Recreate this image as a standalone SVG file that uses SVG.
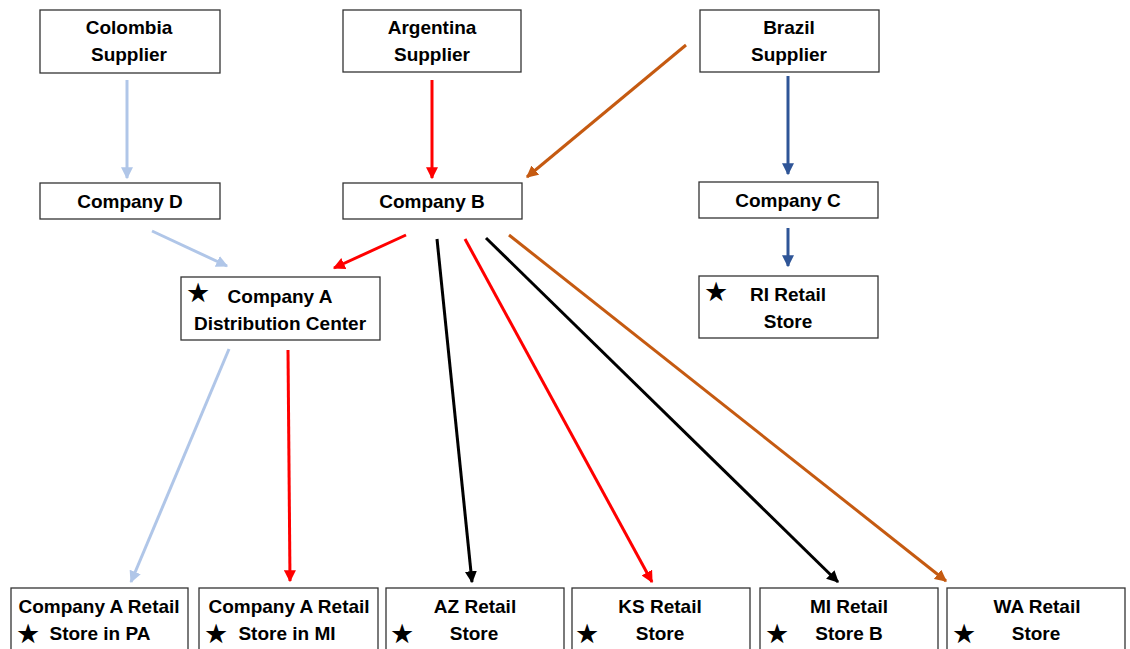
<svg xmlns="http://www.w3.org/2000/svg" width="1130" height="649" viewBox="0 0 1130 649">
<style>
.box{fill:#fff;stroke:#333;stroke-width:1.3}
.t{font-family:"Liberation Sans",Arial,sans-serif;font-weight:bold;font-size:19px;fill:#000;text-anchor:middle}
.star{font-family:"DejaVu Sans",sans-serif;font-size:27px;fill:#000;text-anchor:middle}
.c{fill:none;stroke-width:3}
.lb{stroke:#B0C6E8}.rd{stroke:#FF0000}.or{stroke:#C55A11}.bl{stroke:#2F5597}.bk{stroke:#000}
</style>
<defs>
<marker id="m-lb" viewBox="0 0 10 10" refX="9" refY="5" markerWidth="12" markerHeight="12" markerUnits="userSpaceOnUse" orient="auto"><path d="M0,0L10,5L0,10z" fill="#B0C6E8"/></marker>
<marker id="m-rd" viewBox="0 0 10 10" refX="9" refY="5" markerWidth="12" markerHeight="12" markerUnits="userSpaceOnUse" orient="auto"><path d="M0,0L10,5L0,10z" fill="#FF0000"/></marker>
<marker id="m-or" viewBox="0 0 10 10" refX="9" refY="5" markerWidth="12" markerHeight="12" markerUnits="userSpaceOnUse" orient="auto"><path d="M0,0L10,5L0,10z" fill="#C55A11"/></marker>
<marker id="m-bl" viewBox="0 0 10 10" refX="9" refY="5" markerWidth="12" markerHeight="12" markerUnits="userSpaceOnUse" orient="auto"><path d="M0,0L10,5L0,10z" fill="#2F5597"/></marker>
<marker id="m-bk" viewBox="0 0 10 10" refX="9" refY="5" markerWidth="12" markerHeight="12" markerUnits="userSpaceOnUse" orient="auto"><path d="M0,0L10,5L0,10z" fill="#000"/></marker>
</defs>
<rect width="1130" height="649" fill="#fff"/>
<g id="connectors">
<line class="c lb" x1="127" y1="80" x2="127" y2="178" marker-end="url(#m-lb)"/>
<line class="c rd" x1="432" y1="80" x2="432" y2="178" marker-end="url(#m-rd)"/>
<line class="c or" x1="686" y1="45" x2="527" y2="177" marker-end="url(#m-or)"/>
<line class="c bl" x1="788" y1="76" x2="788" y2="174" marker-end="url(#m-bl)"/>
<line class="c lb" x1="152" y1="231" x2="227" y2="266" marker-end="url(#m-lb)"/>
<line class="c rd" x1="406" y1="235" x2="334" y2="268" marker-end="url(#m-rd)"/>
<line class="c bl" x1="788" y1="228" x2="788" y2="266" marker-end="url(#m-bl)"/>
<line class="c lb" x1="229" y1="349" x2="131" y2="582" marker-end="url(#m-lb)"/>
<line class="c rd" x1="288" y1="350" x2="290" y2="581" marker-end="url(#m-rd)"/>
<line class="c bk" x1="437" y1="239" x2="472" y2="582" marker-end="url(#m-bk)"/>
<line class="c rd" x1="465" y1="239" x2="652" y2="582" marker-end="url(#m-rd)"/>
<line class="c bk" x1="486" y1="238" x2="838" y2="582" marker-end="url(#m-bk)"/>
<line class="c or" x1="509" y1="235" x2="946" y2="581" marker-end="url(#m-or)"/>
</g>
<g id="colombia"><rect class="box" x="40" y="10" width="180" height="63"/><text class="t" x="129" y="34">Colombia</text><text class="t" x="129" y="61">Supplier</text></g>
<g id="argentina"><rect class="box" x="343" y="10" width="178" height="62"/><text class="t" x="432" y="34">Argentina</text><text class="t" x="432" y="61">Supplier</text></g>
<g id="brazil"><rect class="box" x="700" y="10" width="179" height="62"/><text class="t" x="789" y="34">Brazil</text><text class="t" x="789" y="61">Supplier</text></g>
<g id="companyD"><rect class="box" x="40" y="183" width="180" height="36"/><text class="t" x="130" y="208">Company D</text></g>
<g id="companyB"><rect class="box" x="343" y="183" width="179" height="36"/><text class="t" x="432" y="208">Company B</text></g>
<g id="companyC"><rect class="box" x="699" y="182" width="179" height="36"/><text class="t" x="788" y="207">Company C</text></g>
<g id="companyA-dc"><rect class="box" x="181" y="277" width="199" height="63"/><text class="star" x="198" y="302">★</text><text class="t" x="280" y="303">Company A</text><text class="t" x="280" y="330">Distribution Center</text></g>
<g id="ri"><rect class="box" x="699" y="276" width="179" height="62"/><text class="star" x="716" y="301">★</text><text class="t" x="788" y="301">RI Retail</text><text class="t" x="788" y="328">Store</text></g>
<g id="pa"><rect class="box" x="11" y="588" width="177" height="70"/><text class="t" x="99" y="613">Company A Retail</text><text class="star" x="28" y="643">★</text><text class="t" x="100" y="640">Store in PA</text></g>
<g id="mi"><rect class="box" x="199" y="588" width="179" height="70"/><text class="t" x="289" y="613">Company A Retail</text><text class="star" x="216" y="643">★</text><text class="t" x="287" y="640">Store in MI</text></g>
<g id="az"><rect class="box" x="386" y="588" width="178" height="70"/><text class="t" x="475" y="613">AZ Retail</text><text class="star" x="402" y="643">★</text><text class="t" x="474" y="640">Store</text></g>
<g id="ks"><rect class="box" x="572" y="588" width="178" height="70"/><text class="t" x="660" y="613">KS Retail</text><text class="star" x="587" y="643">★</text><text class="t" x="660" y="640">Store</text></g>
<g id="mib"><rect class="box" x="760" y="588" width="178" height="70"/><text class="t" x="849" y="613">MI Retail</text><text class="star" x="777" y="643">★</text><text class="t" x="849" y="640">Store B</text></g>
<g id="wa"><rect class="box" x="947" y="588" width="178" height="70"/><text class="t" x="1037" y="613">WA Retail</text><text class="star" x="964" y="643">★</text><text class="t" x="1036" y="640">Store</text></g>
</svg>
